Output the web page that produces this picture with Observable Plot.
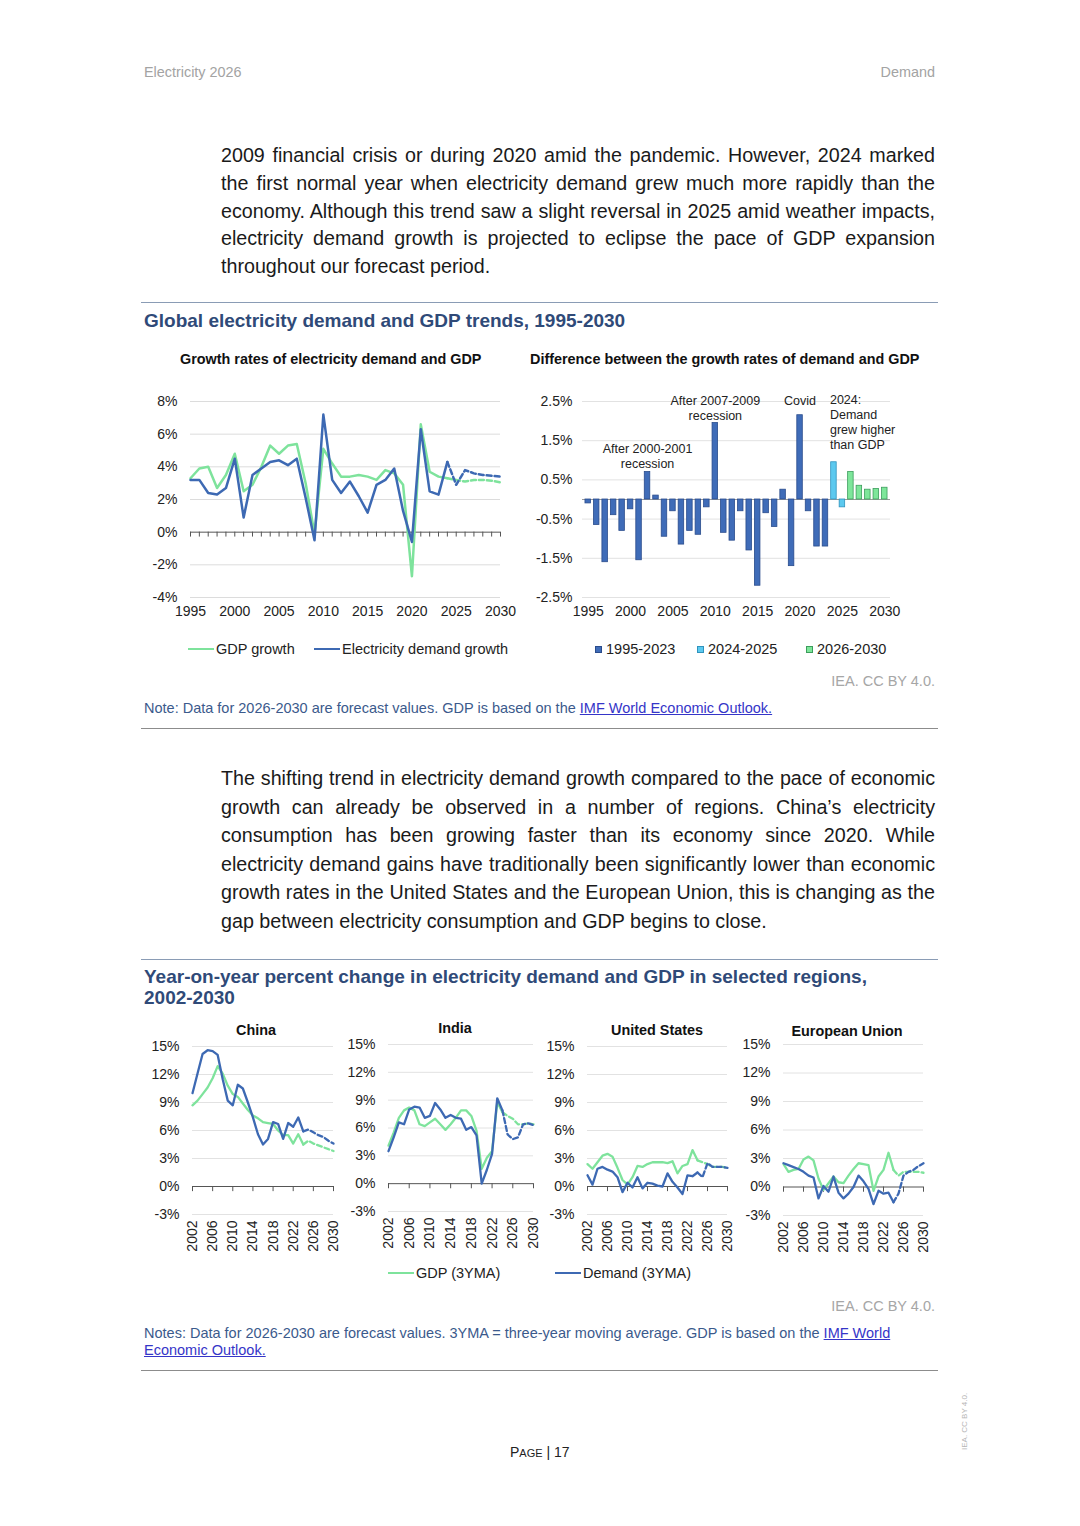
<!DOCTYPE html>
<html>
<head>
<meta charset="utf-8">
<script src="https://cdn.jsdelivr.net/npm/d3@7"></script>
<script src="https://cdn.jsdelivr.net/npm/@observablehq/plot@0.6"></script>
<style>
  html, body { margin: 0; padding: 0; background: #fff; }
  #page { position: relative; width: 1080px; height: 1526px; overflow: hidden; font-family: "Liberation Sans", Arial, sans-serif; color: #1a1a1a; }
  .abs { position: absolute; white-space: nowrap; }
  .hdr { font-size: 14.4px; line-height: 18px; color: #a3a3a3; }
  .para { position: absolute; left: 221px; width: 714px; font-size: 19.7px; color: #1a1a1a; }
  .para div { text-align: justify; text-align-last: justify; white-space: nowrap; }
  .para div.last { text-align-last: left; }
  .rule { position: absolute; left: 141px; width: 797px; height: 0; }
  .rule.blue { border-top: 1.5px solid #8a9cb5; }
  .rule.gray { border-top: 1.5px solid #8c8c8c; }
  .title { font-size: 19px; font-weight: bold; color: #2f4a78; line-height: 21px; }
  .sub { font-size: 14.4px; font-weight: bold; color: #111; line-height: 18px; }
  .leg { font-size: 14.5px; line-height: 18px; color: #222; display: flex; align-items: center; }
  .leg .ln { display: inline-block; width: 26px; height: 0; border-top: 2.5px solid; margin-right: 2px; }
  .leg .sq { display: inline-block; width: 7px; height: 7px; margin-right: 4px; box-sizing: border-box; border: 1px solid; }
  .credit { font-size: 14.5px; line-height: 18px; color: #a6a6a6; }
  .note { font-size: 14.5px; line-height: 17px; color: #3b5a8c; }
  .note a { color: #3535c8; text-decoration: underline; }
  .chart { position: absolute; }
  .chart svg { overflow: visible; }
</style>
</head>
<body>
<div id="page"></div>
<script>
// ---------------- DATA ----------------
const globalYears = d3.range(1995, 2031);
const globalGDP = [3.3,3.9,4.0,2.7,3.5,4.8,2.5,2.9,4.0,5.3,4.8,5.3,5.4,3.0,-0.1,5.1,4.2,3.4,3.4,3.5,3.4,3.2,3.8,3.6,2.9,-2.7,6.6,3.7,3.4,3.3,3.2,3.1,3.2,3.2,3.15,3.05];
const globalDemand = [3.2,3.2,2.4,2.3,2.7,4.5,0.9,3.5,3.9,4.3,4.4,4.1,4.5,2.1,-0.5,7.2,3.2,2.4,3.1,2.2,1.2,2.9,3.2,3.9,1.3,-0.6,6.3,2.5,2.3,4.3,2.9,3.8,3.6,3.5,3.45,3.4];
const globalDiff = [-0.1,-0.65,-1.6,-0.4,-0.8,-0.25,-1.55,0.7,0.1,-0.95,-0.3,-1.15,-0.8,-0.9,-0.2,1.95,-0.85,-1.05,-0.3,-1.3,-2.2,-0.35,-0.7,0.25,-1.7,2.15,-0.3,-1.2,-1.2,0.95,-0.2,0.7,0.35,0.25,0.27,0.3];
const diffPeriods = ["1995-2023", "2024-2025", "2026-2030"];
const growthTicks = [-4,-2,0,2,4,6,8];
const diffTicks = [-2.5,-1.5,-0.5,0.5,1.5,2.5];
const fiveYearTicks = [1995,2000,2005,2010,2015,2020,2025,2030];
const diffNotes = [
  {year: 2002, value: 1.13, label: "After 2000-2001\nrecession", anchor: "middle"},
  {year: 2010, value: 2.33, label: "After 2007-2009\nrecession", anchor: "middle"},
  {year: 2020, value: 2.53, label: "Covid", anchor: "middle"},
  {year: 2024, value: 1.98, label: "2024:\nDemand\ngrew higher\nthan GDP", anchor: "start"}
];

const regionYears = d3.range(2002, 2031);
const regionTicks = [-3,0,3,6,9,12,15];
const regionXTicks = [2002,2006,2010,2014,2018,2022,2026,2030];
const regionNames = ["China", "India", "United States", "European Union"];
const chinaGDP = [8.7,9.2,9.9,10.6,11.6,12.9,12.1,10.8,9.9,9.6,8.9,8.2,7.6,7.3,6.9,6.8,6.7,6.0,5.5,5.5,4.6,5.6,4.5,4.9,4.6,4.4,4.2,4.0,3.8];
const chinaDemand = [10.0,12.1,14.2,14.6,14.5,14.1,11.5,9.2,8.7,10.9,10.5,9.0,7.4,5.6,4.5,5.1,6.9,6.7,5.1,6.8,6.4,7.4,5.9,6.1,5.8,5.5,5.3,4.9,4.6];
const indiaGDP = [4.1,5.5,7.1,7.9,8.2,7.9,6.4,6.2,6.6,7.0,6.4,5.8,6.4,7.1,7.9,7.9,7.3,5.7,1.6,2.8,3.5,8.8,7.7,7.3,7.0,6.4,6.4,6.5,6.4];
const indiaDemand = [3.5,5.0,6.6,6.4,8.0,8.3,8.2,7.1,7.3,8.7,8.0,7.1,7.4,7.1,7.0,5.8,6.1,5.2,0.0,1.5,3.2,9.2,7.9,5.3,4.8,5.0,6.4,6.5,6.3];
const usGDP = [2.4,1.9,2.6,3.3,3.5,3.2,2.0,0.7,0.2,1.0,2.2,2.1,2.4,2.6,2.6,2.6,2.5,2.7,1.4,2.2,2.4,3.9,2.8,2.6,2.4,2.1,2.1,2.1,2.0];
const usDemand = [1.2,0.2,1.9,2.1,1.8,1.6,1.0,-0.6,0.4,-0.1,1.0,-0.2,0.4,0.3,0.1,0.0,1.4,0.5,-0.1,-0.8,1.2,1.1,1.5,1.0,2.5,2.1,2.1,2.1,2.0];
const euGDP = [2.4,1.6,1.8,1.9,2.9,3.2,2.8,0.9,-0.3,0.4,1.1,0.5,0.4,1.2,1.9,2.5,2.4,2.3,-0.4,1.1,1.8,3.6,1.8,1.2,1.6,1.6,1.6,1.6,1.5];
const euDemand = [2.5,2.3,2.1,1.9,1.6,1.2,1.0,-1.2,0.1,-0.5,1.1,-0.6,-1.2,-0.7,0.0,1.2,0.6,-0.2,-1.8,-0.4,-0.7,-0.6,-1.6,-0.7,1.2,1.6,1.8,2.2,2.5];
const lastActualYear = 2024;

// ---------------- STYLE ----------------
const GREEN = "#7ee39c";
const BLUE = "#3d69b3";
const BAR_COLORS = {"1995-2023": ["#3f6cb8", "#2a4c8c"], "2024-2025": ["#5cc9ef", "#2f93bd"], "2026-2030": ["#7ee69a", "#3c9d5c"]};
const FONT = "'Liberation Sans', Arial, sans-serif";

const page = document.getElementById("page");
function place(html, cls, left, top, extra) {
  const el = document.createElement("div");
  el.className = "abs " + (cls || "");
  el.style.left = left + "px";
  el.style.top = top + "px";
  if (extra) Object.assign(el.style, extra);
  el.innerHTML = html;
  page.appendChild(el);
  return el;
}
function rule(top, cls) {
  const el = document.createElement("div");
  el.className = "rule " + cls;
  el.style.top = top + "px";
  page.appendChild(el);
}
function para(lines, top, lh) {
  const el = document.createElement("div");
  el.className = "para";
  el.style.top = top + "px";
  el.style.lineHeight = lh + "px";
  lines.forEach((t, i) => {
    const d = document.createElement("div");
    d.textContent = t;
    if (i === lines.length - 1) d.className = "last";
    el.appendChild(d);
  });
  page.appendChild(el);
}
function addChart(svg, left, top) {
  const wrap = document.createElement("div");
  wrap.className = "chart";
  wrap.style.left = left + "px";
  wrap.style.top = top + "px";
  wrap.appendChild(svg);
  page.appendChild(wrap);
}

// ---------------- PAGE TEXT ----------------
place("Electricity 2026", "hdr", 144, 63);
place("Demand", "hdr", 0, 63, {left: "auto", right: "145px"});

para([
  "2009 financial crisis or during 2020 amid the pandemic. However, 2024 marked",
  "the first normal year when electricity demand grew much more rapidly than the",
  "economy. Although this trend saw a slight reversal in 2025 amid weather impacts,",
  "electricity demand growth is projected to eclipse the pace of GDP expansion",
  "throughout our forecast period."
], 142, 27.8);

rule(302, "blue");
place("Global electricity demand and GDP trends, 1995-2030", "title", 144, 310);
place("Growth rates of electricity demand and GDP", "sub", 180, 350);
place("Difference between the growth rates of demand and GDP", "sub", 530, 350);

// ---------------- TOP LEFT CHART ----------------
const globalRows = globalYears.map((year, i) => ({year, gdp: globalGDP[i], demand: globalDemand[i]}));
const leftChart = Plot.plot({
  width: 375, height: 242,
  marginLeft: 50, marginRight: 15, marginTop: 16, marginBottom: 30,
  style: {fontFamily: FONT, fontSize: "14px", color: "#222", background: "transparent"},
  x: {domain: [1995, 2030]},
  y: {domain: [-4, 8]},
  marks: [
    Plot.gridY(growthTicks.filter(d => d !== 0), {stroke: "#dcdcdc", strokeOpacity: 1}),
    Plot.axisY({ticks: growthTicks, tickSize: 0, tickPadding: 13, tickFormat: d => d + "%", label: null, fontSize: 14}),
    Plot.axisX({ticks: fiveYearTicks, tickSize: 0, tickPadding: 9, tickFormat: d => String(d), label: null, fontSize: 14}),
    Plot.ruleY([0], {stroke: "#555"}),
    Plot.ruleX(globalYears, {x: d => d, y1: 0, y2: -0.3, stroke: "#555"}),
    Plot.line(globalRows.filter(d => d.year <= lastActualYear), {x: "year", y: "gdp", stroke: GREEN, strokeWidth: 2.5}),
    Plot.line(globalRows.filter(d => d.year >= lastActualYear), {x: "year", y: "gdp", stroke: GREEN, strokeWidth: 2.5, strokeDasharray: "5,3"}),
    Plot.line(globalRows.filter(d => d.year <= lastActualYear), {x: "year", y: "demand", stroke: BLUE, strokeWidth: 2.5}),
    Plot.line(globalRows.filter(d => d.year >= lastActualYear), {x: "year", y: "demand", stroke: BLUE, strokeWidth: 2.5, strokeDasharray: "5,3"})
  ]
});
addChart(leftChart, 140, 385);

// ---------------- TOP RIGHT CHART ----------------
const periodOf = y => y <= 2023 ? diffPeriods[0] : (y <= 2025 ? diffPeriods[1] : diffPeriods[2]);
const diffRows = globalYears.map((year, i) => ({year, diff: globalDiff[i], period: periodOf(year)}));
const rightChart = Plot.plot({
  width: 381, height: 242,
  marginLeft: 57, marginRight: 16, marginTop: 16, marginBottom: 30,
  style: {fontFamily: FONT, fontSize: "14px", color: "#222", background: "transparent"},
  x: {type: "band", domain: globalYears, padding: 0.35, round: false},
  y: {domain: [-2.5, 2.5]},
  marks: [
    Plot.gridY(diffTicks, {stroke: "#e2e2e2", strokeOpacity: 1}),
    Plot.axisY({ticks: diffTicks, tickSize: 0, tickPadding: 10, tickFormat: d => d + "%", label: null, fontSize: 14}),
    Plot.axisX({ticks: fiveYearTicks, tickSize: 0, tickPadding: 9, tickFormat: d => String(d), label: null, fontSize: 14}),
    Plot.ruleY([0], {stroke: "#9a9a9a"}),
    ...diffPeriods.map(p => Plot.barY(diffRows.filter(d => d.period === p), {
      x: "year", y: "diff", fill: BAR_COLORS[p][0], stroke: BAR_COLORS[p][1], strokeWidth: 0.8
    })),
    Plot.text(diffNotes.filter(d => d.anchor === "middle"), {x: "year", y: "value", text: "label", textAnchor: "middle", lineHeight: 1.2, fontSize: 12.5, fill: "#222"}),
    Plot.text(diffNotes.filter(d => d.anchor === "start"), {x: "year", y: "value", text: "label", textAnchor: "start", dx: -4, lineHeight: 1.2, fontSize: 12.5, fill: "#222"})
  ]
});
addChart(rightChart, 525, 385);

// ---------------- TOP LEGENDS ----------------
place(`<span class="ln" style="border-color:${GREEN}"></span>GDP growth`, "leg", 188, 640);
place(`<span class="ln" style="border-color:${BLUE}"></span>Electricity demand growth`, "leg", 314, 640);
diffPeriods.forEach((p, i) => {
  const lefts = [595, 697, 806];
  place(`<span class="sq" style="background:${BAR_COLORS[p][0]};border-color:${BAR_COLORS[p][1]}"></span>${p}`, "leg", lefts[i], 640);
});
place("IEA. CC BY 4.0.", "credit", 0, 672, {left: "auto", right: "145px"});
place('Note: Data for 2026-2030 are forecast values. GDP is based on the <a>IMF World Economic Outlook.</a>', "note", 144, 700);
rule(728, "gray");

para([
  "The shifting trend in electricity demand growth compared to the pace of economic",
  "growth can already be observed in a number of regions. China\u2019s electricity",
  "consumption has been growing faster than its economy since 2020. While",
  "electricity demand gains have traditionally been significantly lower than economic",
  "growth rates in the United States and the European Union, this is changing as the",
  "gap between electricity consumption and GDP begins to close."
], 764, 28.6);

rule(959, "blue");
place("Year-on-year percent change in electricity demand and GDP in selected regions,<br>2002-2030", "title", 144, 966);

// ---------------- REGION CHARTS ----------------
const regionSeries = [
  {gdp: chinaGDP, demand: chinaDemand},
  {gdp: indiaGDP, demand: indiaDemand},
  {gdp: usGDP, demand: usDemand},
  {gdp: euGDP, demand: euDemand}
];
// layout for each panel: svg left, svg top, plot width, plot height, title center
const regionLayout = [
  {left: 147, top: 1038, w: 141, h: 168, tx: 256, ty: 1021},
  {left: 343, top: 1036, w: 145, h: 167, tx: 455, ty: 1019},
  {left: 542, top: 1038, w: 140, h: 168, tx: 657, ty: 1021},
  {left: 738, top: 1036, w: 140, h: 171, tx: 847, ty: 1022}
];
regionNames.forEach((name, k) => {
  const L = regionLayout[k];
  const S = regionSeries[k];
  const rows = regionYears.map((year, i) => ({year, gdp: S.gdp[i], demand: S.demand[i]}));
  const ch = Plot.plot({
    width: 45 + L.w + 8, height: 8 + L.h + 45,
    marginLeft: 45, marginRight: 8, marginTop: 8, marginBottom: 45,
    style: {fontFamily: FONT, fontSize: "14px", color: "#222", background: "transparent"},
    x: {domain: [2002, 2030]},
    y: {domain: [-3, 15]},
    marks: [
      Plot.gridY(regionTicks.filter(d => d !== 0), {stroke: "#e2e2e2", strokeOpacity: 1}),
      Plot.axisY({ticks: regionTicks, tickSize: 0, tickPadding: 13, tickFormat: d => d + "%", label: null, fontSize: 14}),
      Plot.axisX({ticks: regionXTicks, tickSize: 0, tickPadding: 6, tickRotate: -90, tickFormat: d => String(d), label: null, fontSize: 14}),
      Plot.ruleY([0], {stroke: "#555"}),
      Plot.ruleX(regionXTicks, {x: d => d, y1: 0, y2: -0.55, stroke: "#555"}),
      Plot.line(rows.filter(d => d.year <= lastActualYear), {x: "year", y: "gdp", stroke: GREEN, strokeWidth: 2.3}),
      Plot.line(rows.filter(d => d.year >= lastActualYear), {x: "year", y: "gdp", stroke: GREEN, strokeWidth: 2.3, strokeDasharray: "5,3"}),
      Plot.line(rows.filter(d => d.year <= lastActualYear), {x: "year", y: "demand", stroke: BLUE, strokeWidth: 2.3}),
      Plot.line(rows.filter(d => d.year >= lastActualYear), {x: "year", y: "demand", stroke: BLUE, strokeWidth: 2.3, strokeDasharray: "5,3"})
    ]
  });
  addChart(ch, L.left, L.top);
  const t = place(name, "sub", L.tx, L.ty);
  t.style.transform = "translateX(-50%)";
});

place(`<span class="ln" style="border-color:${GREEN}"></span>GDP (3YMA)`, "leg", 388, 1264);
place(`<span class="ln" style="border-color:${BLUE}"></span>Demand (3YMA)`, "leg", 555, 1264);
place("IEA. CC BY 4.0.", "credit", 0, 1297, {left: "auto", right: "145px"});
place('Notes: Data for 2026-2030 are forecast values. 3YMA = three-year moving average. GDP is based on the <a>IMF World</a><br><a>Economic Outlook.</a>', "note", 144, 1325);
rule(1370, "gray");

place('P<span style="font-size:11px">AGE</span> | 17', "", 510, 1443, {fontSize: "14px", lineHeight: "18px", color: "#222"});
place("IEA. CC BY 4.0.", "", 960, 1450, {fontSize: "8px", lineHeight: "10px", color: "#b5b5b5", transform: "rotate(-90deg)", transformOrigin: "0 0"});
</script>
</body>
</html>
